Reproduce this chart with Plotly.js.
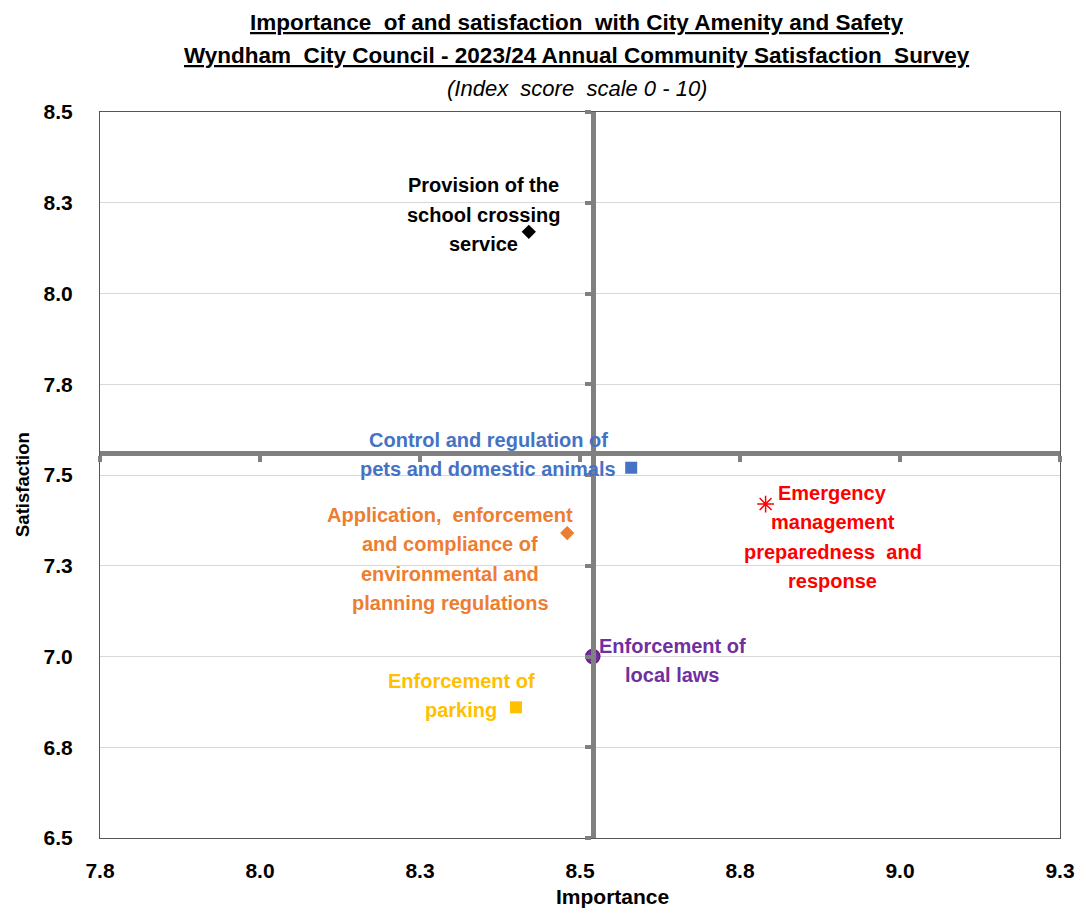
<!DOCTYPE html>
<html>
<head>
<meta charset="utf-8">
<script src="https://cdn.plot.ly/plotly-3.0.1.min.js"></script>
<style>html,body{margin:0;padding:0;background:#fff;}#chart{width:1078px;height:911px;}</style>
</head>
<body>
<div id="chart"></div>
<script>
// ---- data ----
const labels = [
  "Provision of the<br>school crossing<br>service",
  "Control and regulation of<br>pets and domestic animals",
  "Emergency<br>management<br>preparedness  and<br>response",
  "Application,  enforcement<br>and compliance of<br>environmental and<br>planning regulations",
  "Enforcement of<br>local laws",
  "Enforcement of<br>parking"
];
const importance   = [8.42, 8.58, 8.79, 8.48, 8.52, 8.40];
const satisfaction = [8.17, 7.52, 7.42, 7.34, 7.00, 6.86];
const colors  = ["#000000", "#4472C4", "#FF0000", "#ED7D31", "#7030A0", "#FFC000"];
const symbols = ["diamond", "square", "asterisk-open", "diamond", "circle", "square"];
const avgImportance = 8.52;
const avgSatisfaction = 7.56;
const xTickVals = [7.75, 8.0, 8.25, 8.5, 8.75, 9.0, 9.25];
const xTickText = ["7.8", "8.0", "8.3", "8.5", "8.8", "9.0", "9.3"];
const yTickVals = [6.5, 6.75, 7.0, 7.25, 7.5, 7.75, 8.0, 8.25, 8.5];
const yTickText = ["6.5", "6.8", "7.0", "7.3", "7.5", "7.8", "8.0", "8.3", "8.5"];
const xRange = [7.75, 9.25];
const yRange = [6.5, 8.5];

// ---- styles ----
const FONT = "Liberation Sans, Arial, sans-serif";
const labelOffsets = [[-45,-17],[-143,-13],[67,33],[-117,26],[80,4],[-55,-12]];
const sizes = [11, 12, 14, 11, 14, 12];
const lineColors = ["#000000","#4472C4","#FF0000","#ED7D31","#5B1F85","#FFC000"];
const LINE_GAP = 29.5;

const traces = [];
// dummy trace to host the crosshair axes
traces.push({type:"scatter", mode:"markers", x:[avgImportance], y:[avgSatisfaction],
  xaxis:"x2", yaxis:"y2", marker:{opacity:0}, showlegend:false, hoverinfo:"skip"});
for (let i = 0; i < labels.length; i++) {
  traces.push({
    type: "scatter", mode: "markers",
    x: [importance[i]], y: [satisfaction[i]],
    marker: {symbol: symbols[i], size: sizes[i], color: colors[i],
             line: {color: lineColors[i], width: (symbols[i] === "asterisk-open" || symbols[i] === "circle") ? 1.5 : 0}},
    showlegend: false, hoverinfo: "skip", cliponaxis: false
  });
}

const annotations = [];
labels.forEach((t, i) => {
  const lines = t.split("<br>");
  const n = lines.length;
  lines.forEach((ln, j) => annotations.push({
    text: ln, x: importance[i], y: satisfaction[i], xref: "x", yref: "y",
    showarrow: false, xanchor: "center", yanchor: "middle", align: "center",
    xshift: labelOffsets[i][0],
    yshift: -labelOffsets[i][1] + ((n - 1) / 2 - j) * LINE_GAP,
    font: {family: FONT, size: 20, weight: "bold", color: colors[i]}
  }));
});
const titleLines = [
  {text: "Importance  of and satisfaction  with City Amenity and Safety", shift: 90, under: true},
  {text: "Wyndham  City Council - 2023/24 Annual Community Satisfaction  Survey", shift: 57, under: true},
  {text: "(Index  score  scale 0 - 10)", shift: 24, under: false}
];
titleLines.forEach(l => annotations.push({
  text: l.text, xref: "paper", yref: "paper", x: 0.497, y: 1, yshift: l.shift,
  showarrow: false, xanchor: "center", yanchor: "middle",
  font: l.under ? {family: FONT, size: 22.5, weight: "bold", color: "#000", lineposition: "under"}
                : {family: FONT, size: 22, style: "italic", color: "#000"}
}));
annotations.push({text: "Importance", xref: "paper", yref: "paper", x: 0.5, y: 0, xshift: 32, yshift: -58,
  showarrow: false, xanchor: "center", yanchor: "middle",
  font: {family: FONT, size: 21, weight: "bold", color: "#000"}});
annotations.push({text: "Satisfaction", xref: "paper", yref: "paper", x: 0, y: 0.5, xshift: -78, yshift: -10,
  textangle: -90, showarrow: false, xanchor: "center", yanchor: "middle",
  font: {family: FONT, size: 18.5, weight: "bold", color: "#000"}});

const layout = {
  width: 1078, height: 911,
  margin: {l: 100, r: 18, t: 112, b: 73},
  paper_bgcolor: "#fff", plot_bgcolor: "#fff",
  showlegend: false,
  xaxis: {range: xRange, tickvals: xTickVals, ticktext: xTickText, showgrid: false, zeroline: false,
          showline: true, mirror: true, linecolor: "#555", linewidth: 1, ticks: "",
          ticklabelstandoff: 14, tickfont: {family: FONT, size: 21, weight: "bold", color: "#000"}},
  yaxis: {range: yRange, tickvals: yTickVals, ticktext: yTickText, showgrid: true, gridcolor: "#d9d9d9",
          gridwidth: 1, zeroline: false, showline: true, mirror: true, linecolor: "#555", linewidth: 1,
          ticks: "", ticklabelstandoff: 22, tickfont: {family: FONT, size: 21, weight: "bold", color: "#000"}},
  xaxis2: {range: xRange, overlaying: "x", anchor: "free",
           position: (avgSatisfaction - yRange[0]) / (yRange[1] - yRange[0]), side: "bottom",
           tickvals: xTickVals, showticklabels: false, showgrid: false, zeroline: false,
           showline: true, linecolor: "#808080", linewidth: 5,
           ticks: "outside", ticklen: 6, tickwidth: 4, tickcolor: "#808080"},
  yaxis2: {range: yRange, overlaying: "y", anchor: "free",
           position: (avgImportance - xRange[0]) / (xRange[1] - xRange[0]), side: "left",
           tickvals: yTickVals, showticklabels: false, showgrid: false, zeroline: false,
           showline: true, linecolor: "#808080", linewidth: 5,
           ticks: "outside", ticklen: 6, tickwidth: 4, tickcolor: "#808080"},
  annotations: annotations
};
Plotly.newPlot("chart", traces, layout, {displayModeBar: false, staticPlot: true});
</script>
</body>
</html>
